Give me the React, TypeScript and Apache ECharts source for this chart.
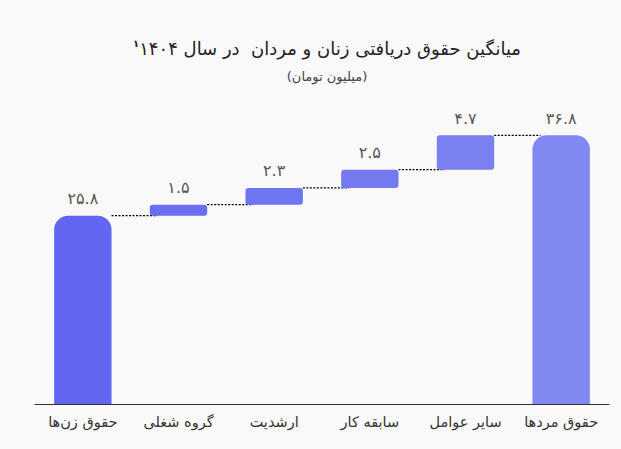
import React, { useEffect, useRef } from 'react';
import * as echarts from 'echarts';

// دسته‌ها (از چپ به راست)
const categories = ['حقوق زن‌ها', 'گروه شغلی', 'ارشدیت', 'سابقه کار', 'سایر عوامل', 'حقوق مردها'];
// مقدار هر ستون (میلیون تومان)
const values = [25.8, 1.5, 2.3, 2.5, 4.7, 36.8];
// ستون‌های کامل (از صفر شروع می‌شوند)
const totals = [true, false, false, false, false, true];

const barColors = ['#6366f1', '#6a6ff1', '#6f75f0', '#7479ef', '#7a80f0', '#8188f2'];
const FONT = 'DejaVu Sans';

const toFa = (n: number) =>
  String(n).replace(/\d/g, (d) => '۰۱۲۳۴۵۶۷۸۹'[Number(d)]);

// پایه‌ی شناور هر ستون
const bases: number[] = [];
const tops: number[] = [];
let run = 0;
values.forEach((v, i) => {
  if (totals[i]) {
    bases.push(0);
    run = v;
    tops.push(v);
  } else {
    bases.push(run);
    run += v;
    tops.push(run);
  }
});

function App() {
  const chartRef = useRef<HTMLDivElement>(null);

  useEffect(() => {
    if (!chartRef.current) return undefined;
    document.body.style.margin = '0';

    const option = {
      animation: false,
      backgroundColor: '#f9f9f9',
      title: {
        text: '{sup|۱}{m|میانگین حقوق دریافتی زنان و مردان  در سال ۱۴۰۴}',
        subtext: '(میلیون تومان)',
        left: 322,
        top: 33,
        textAlign: 'center',
        itemGap: 13,
        textStyle: {
          rich: {
            m: { fontFamily: FONT, fontSize: 18, color: '#222', fontWeight: 'normal' },
            sup: { fontFamily: FONT, fontSize: 10, color: '#222', padding: [0, 0, 10, 0] },
          },
        },
        subtextStyle: { fontFamily: FONT, fontSize: 13, color: '#444' },
      },
      grid: { left: 35, right: 12, top: 112, bottom: 45 },
      xAxis: {
        type: 'category',
        data: categories,
        axisTick: { show: false },
        axisLine: { lineStyle: { color: '#333', width: 1 } },
        axisLabel: { fontFamily: FONT, fontSize: 14.5, color: '#333', margin: 10, interval: 0 },
      },
      yAxis: {
        type: 'value',
        min: 0,
        max: 40,
        show: false,
        splitLine: { show: false },
      },
      series: [
        {
          type: 'bar',
          stack: 'w',
          silent: true,
          itemStyle: { color: 'transparent' },
          data: bases,
          barWidth: '60%',
        },
        {
          type: 'bar',
          stack: 'w',
          barWidth: '60%',
          data: values.map((v, i) => ({
            value: v,
            itemStyle: {
              color: barColors[i],
              borderRadius: totals[i] ? [14, 14, 0, 0] : 3,
            },
          })),
          label: {
            show: true,
            position: 'top',
            distance: 9,
            fontFamily: FONT,
            fontSize: 16,
            color: '#555',
            formatter: (p: any) => toFa(p.value),
          },
          z: 3,
        },
        {
          type: 'custom',
          silent: true,
          z: 2,
          data: tops.slice(0, -1).map((t, i) => [i, t]),
          renderItem: (params: any, api: any) => {
            const i = api.value(0);
            const t = api.value(1);
            const half = (api.size([1, 0])[0] * 0.6) / 2;
            const a = api.coord([i, t]);
            const b = api.coord([i + 1, t]);
            return {
              type: 'line',
              shape: { x1: a[0] + half, y1: a[1], x2: b[0] - half + 8, y2: b[1] },
              style: { stroke: '#000', lineWidth: 1.2, lineDash: [2, 1.5] },
            };
          },
        },
      ],
    };

    const chart = echarts.init(chartRef.current, null, { renderer: 'svg' });
    chart.setOption(option);

    return () => {
      chart.dispose();
    };
  }, []);

  return (
    <div
      ref={chartRef}
      style={{ position: 'fixed', left: 0, top: 0, width: '621px', height: '449px' }}
    />
  );
}

export default App;
